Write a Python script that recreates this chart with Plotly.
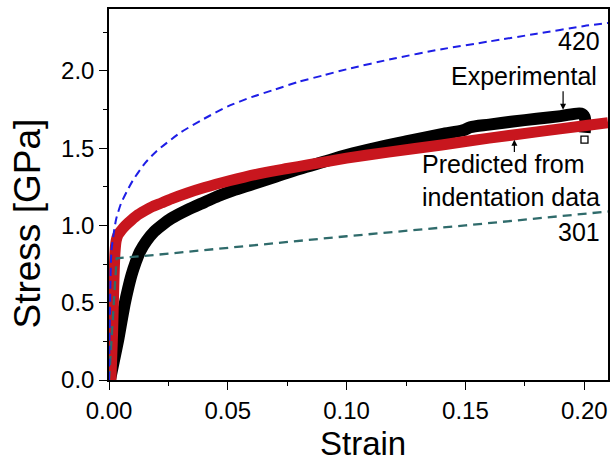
import plotly.graph_objects as go

# ---- data ----
exp_strain = [0.0004, 0.002, 0.004, 0.0055, 0.0067, 0.008, 0.0095, 0.0112, 0.013, 0.0158,
              0.019, 0.0225, 0.0262, 0.033, 0.0402, 0.046, 0.052, 0.060, 0.070, 0.080,
              0.090, 0.100, 0.1134, 0.125, 0.140, 0.149, 0.152, 0.160, 0.170, 0.180,
              0.190, 0.1985, 0.2002, 0.2002]
exp_stress = [0.0, 0.12, 0.27, 0.40, 0.50, 0.59, 0.68, 0.76, 0.83, 0.90,
              0.96, 1.005, 1.045, 1.10, 1.15, 1.19, 1.225, 1.265, 1.315, 1.365,
              1.41, 1.455, 1.505, 1.543, 1.59, 1.615, 1.635, 1.652, 1.672, 1.69,
              1.707, 1.724, 1.70, 1.60]
exp_end_strain = [0.2001]
exp_end_stress = [1.555]

pred_strain = [0.0008, 0.0015, 0.002, 0.0025, 0.003, 0.0038, 0.005, 0.007, 0.0095, 0.0123,
               0.015, 0.018, 0.022, 0.0262, 0.033, 0.0402, 0.045, 0.0506, 0.057, 0.065,
               0.075, 0.0841, 0.100, 0.1176, 0.140, 0.160, 0.180, 0.200, 0.210]
pred_stress = [0.0, 0.30, 0.60, 0.82, 0.90, 0.94, 0.965, 1.00, 1.035, 1.07,
               1.095, 1.12, 1.145, 1.172, 1.21, 1.245, 1.266, 1.289, 1.313, 1.34,
               1.368, 1.393, 1.435, 1.474, 1.52, 1.565, 1.605, 1.645, 1.665]

s420_strain = [0.0, 0.001, 0.002, 0.003, 0.005, 0.0075, 0.010, 0.015, 0.020, 0.030, 0.040,
               0.050, 0.060, 0.070, 0.080, 0.090, 0.100, 0.120, 0.140, 0.160, 0.180, 0.200, 0.210]
s420_stress = [0.0, 0.83, 0.95, 1.04, 1.14, 1.22, 1.29, 1.40, 1.48, 1.60, 1.69,
               1.77, 1.83, 1.88, 1.93, 1.97, 2.01, 2.08, 2.14, 2.19, 2.24, 2.29, 2.31]

s301_strain = [0.0, 0.0032, 0.020, 0.050, 0.100, 0.150, 0.210]
s301_stress = [0.0, 0.787, 0.81, 0.855, 0.93, 1.00, 1.09]

x_ticks = [0.0, 0.05, 0.10, 0.15, 0.20]
y_ticks = [0.0, 0.5, 1.0, 1.5, 2.0]

FONT = "Liberation Sans, Arial, sans-serif"

fig = go.Figure()
fig.add_trace(go.Scatter(x=exp_strain, y=exp_stress, mode="lines",
                         line=dict(color="#000000", width=12, shape="spline", smoothing=0.8),
                         name="Experimental"))
fig.add_trace(go.Scatter(x=exp_end_strain, y=exp_end_stress, mode="markers",
                         marker=dict(symbol="square-open", size=7, color="#000000",
                                     line=dict(width=1.3, color="#000000")),
                         name="Experimental end"))
fig.add_trace(go.Scatter(x=pred_strain, y=pred_stress, mode="lines",
                         line=dict(color="#C8161E", width=11, shape="spline", smoothing=0.6),
                         name="Predicted"))
fig.add_trace(go.Scatter(x=s301_strain, y=s301_stress, mode="lines",
                         line=dict(color="#2F6B6B", width=2.3, dash="9px,6px"), name="301"))
fig.add_trace(go.Scatter(x=s420_strain, y=s420_stress, mode="lines",
                         line=dict(color="#1E1EE6", width=2, dash="8px,5px", shape="spline",
                                   smoothing=0.6), name="420"))

ann_font = dict(family=FONT, size=25, color="#000000")
annotations = [
    dict(x=0.2076, y=2.196, xref="x", yref="y", text="420", showarrow=False,
         xanchor="right", yanchor="middle", font=ann_font),
    dict(x=0.2062, y=1.969, xref="x", yref="y", text="Experimental", showarrow=False,
         xanchor="right", yanchor="middle", font=ann_font),
    dict(x=0.1309, y=1.289, xref="x", yref="y", text="Predicted from<br>indentation data",
         showarrow=False, xanchor="left", yanchor="middle", align="left", font=ann_font),
    dict(x=0.2076, y=0.9585, xref="x", yref="y", text="301", showarrow=False,
         xanchor="right", yanchor="middle", font=ann_font),
    # arrows
    dict(x=0.1911, y=1.749, ax=0.1911, ay=1.878, xref="x", yref="y", axref="x", ayref="y",
         text="", showarrow=True, arrowhead=2, arrowsize=1, arrowwidth=1.2, arrowcolor="#000000"),
    dict(x=0.1706, y=1.554, ax=0.1706, ay=1.466, xref="x", yref="y", axref="x", ayref="y",
         text="", showarrow=True, arrowhead=2, arrowsize=1, arrowwidth=1.2, arrowcolor="#000000"),
    # axis titles
    dict(x=0.107, y=0, xref="x", yref="paper", yshift=-63, text="Strain", showarrow=False,
         xanchor="center", yanchor="middle", font=dict(family=FONT, size=33, color="#000000")),
    dict(x=0, y=0.4205, xref="paper", yref="paper", xshift=-81.5, text="Stress [GPa]",
         textangle=-90, showarrow=False, xanchor="center", yanchor="middle",
         font=dict(family=FONT, size=37, color="#000000")),
]

fig.update_layout(
    width=613, height=461,
    margin=dict(l=109, r=3, t=9, b=81),
    paper_bgcolor="white", plot_bgcolor="white",
    showlegend=False,
    font=dict(family=FONT, size=24, color="#000000"),
    annotations=annotations,
)
fig.update_xaxes(range=[0, 0.21], tickvals=x_ticks, tickformat=".2f",
                 ticks="outside", ticklen=8, tickwidth=1.3, tickcolor="#000000",
                 showline=True, linecolor="#000000", linewidth=1.5, mirror=True,
                 showgrid=False, zeroline=False,
                 minor=dict(ticks="outside", ticklen=4, tickwidth=1.3, tickcolor="#000000",
                            dtick=0.025, tick0=0, showgrid=False),
                 tickfont=dict(family=FONT, size=24, color="#000000"))
fig.update_yaxes(range=[0, 2.4], tickvals=y_ticks, tickformat=".1f",
                 ticks="outside", ticklen=8, tickwidth=1.3, tickcolor="#000000",
                 showline=True, linecolor="#000000", linewidth=1.5, mirror=True,
                 showgrid=False, zeroline=False,
                 minor=dict(ticks="outside", ticklen=4, tickwidth=1.3, tickcolor="#000000",
                            dtick=0.25, tick0=0, showgrid=False),
                 tickfont=dict(family=FONT, size=24, color="#000000"))

fig.write_html("out.html")
